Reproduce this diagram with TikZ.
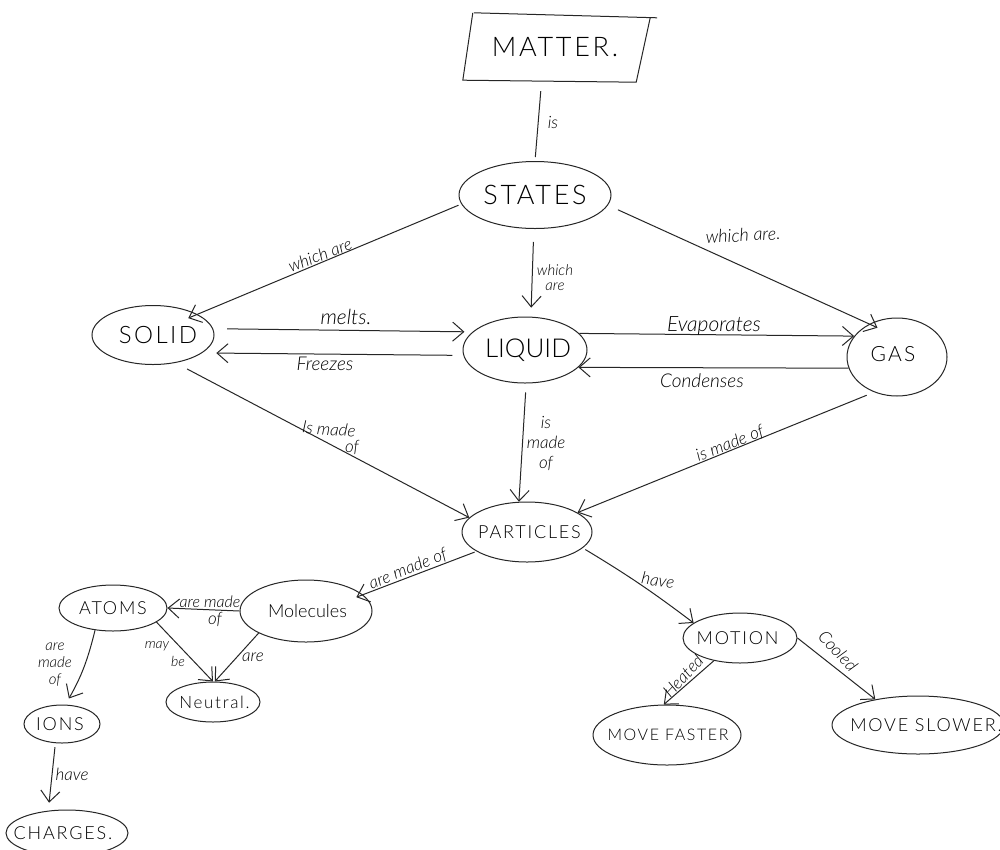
\documentclass[tikz,border=0pt]{standalone}
\usepackage{fontspec}
\setmainfont{Lato Light}[ItalicFont={Lato Light Italic}]
\usetikzlibrary{arrows.meta,shapes.geometric}
\newcommand{\spc}{\addfontfeature{LetterSpace=10}}
\newcommand{\tx}[1]{\makebox[0pt][c]{#1}}
\tikzset{
  x=1pt,y=-1pt,
  concept/.style={ellipse,draw=black!85,line width=1pt,inner sep=0pt,minimum width=#1,align=center},
  capsA/.style={font=\fontsize{27}{27}\selectfont\spc},
  capsB/.style={font=\fontsize{21}{21}\selectfont\spc},
  capsC/.style={font=\fontsize{18}{18}\selectfont\spc},
  lab/.style={font=\fontsize{17}{17}\selectfont\itshape,inner sep=0pt,align=center,text=black},
  link/.style={draw=black!85,line width=1pt},
  arr/.style={link,-{Straight Barb[length=11pt,width=19pt,line width=1pt]}},
}
\begin{document}
\begin{tikzpicture}
\useasboundingbox (0,0) rectangle (1000,849);
\fill[white] (0,0) rectangle (1000,849);
% nodes
\node[inner sep=0pt,minimum width=180pt,minimum height=66pt,capsA] (matter) at (555,48) {\tx{\raisebox{3pt}{MATTER.}}};
\draw[link] ([shift={(9,-2)}]matter.north west) -- ([shift={(12,3)}]matter.north east);
\draw[link] ([shift={(8,-2)}]matter.north west) -- ([shift={(-2,-1)}]matter.south west)
  -- ([shift={(-9,1)}]matter.south east) -- ([shift={(5,3)}]matter.north east);
\node[concept=152pt,minimum height=67pt,capsA] (states) at (535,195) {\tx{\raisebox{-2pt}{STATES}}};
\node[concept=122pt,minimum height=59pt,font=\fontsize{24}{24}\selectfont\spc] (solid) at (153,335) {\tx{\kern10ptSOLID}};
\node[concept=124pt,minimum height=66pt,font=\fontsize{26}{26}\selectfont] (liquid) at (525,350) {\tx{\kern6ptLIQUID}};
\node[concept=100pt,minimum height=78pt,capsB] (gas) at (897,357) {\tx{\raisebox{7pt}{GAS\kern8pt}}};
\node[concept=130pt,minimum height=60pt,capsC] (particles) at (527,532) {\tx{\kern5ptPARTICLES}};
\node[concept=132pt,minimum height=62pt,font=\fontsize{18}{18}\selectfont] (molecules) at (306,611) {\tx{\kern3ptMolecules}};
\node[concept=108pt,minimum height=46pt,capsC] (atoms) at (113,608) {\tx{ATOMS}};
\node[concept=94pt,minimum height=40pt,font=\fontsize{17}{17}\selectfont\spc] (neutral) at (213,702) {\tx{\kern3ptNeutral.}};
\node[concept=76pt,minimum height=38pt,capsC] (ions) at (62,724) {\tx{IONS\kern4pt}};
\node[concept=122pt,minimum height=46pt,capsC] (charges) at (67,833) {\tx{CHARGES.\kern8pt}};
\node[concept=114pt,minimum height=50pt,capsC] (motion) at (740,638) {\tx{MOTION\kern5pt}};
\node[concept=148pt,minimum height=60pt,font=\fontsize{16}{16}\selectfont\spc] (faster) at (667,735) {\tx{\kern2ptMOVE FASTER}};
\node[concept=172pt,minimum height=58pt,capsC] (slower) at (918,725) {\tx{\kern16ptMOVE SLOWER.}};
% connectors
\draw[link,shorten <=10pt,shorten >=4pt] (matter.248) -- (states.90);
\draw[arr,shorten <=3pt,shorten >=-10pt] (states.187) -- (solid.25);
\draw[arr,shorten <=13pt,shorten >=9pt] (states.268) -- (liquid.80);
\draw[arr,shorten <=11pt,shorten >=-9pt] (states.352) -- (gas.130);
\draw[arr,shorten <=14pt,shorten >=8pt] (solid.6) -- (liquid.161);
\draw[arr,shorten <=11pt,shorten >=14pt] (liquid.185) -- (solid.340);
\draw[arr] (liquid.17) -- (gas.154);
\draw[arr] (gas.193) -- (liquid.342);
\draw[arr,shorten <=13pt] (solid.309) -- (particles.166);
\draw[arr,shorten <=9pt] (liquid.272) -- (particles.105);
\draw[arr,shorten <=8pt] (gas.237) -- (particles.21);
\draw[arr,shorten <=2pt,shorten >=-7pt] (particles.201) -- (molecules.16);
\draw[arr,shorten <=3pt] (particles.344) to[bend left=3] (motion.162);
\draw[arr] (motion.221) -- (faster.96);
\draw[arr] (motion.0) -- (slower.149);
\draw[arr] (molecules.180) -- (atoms.0);
\draw[arr] (atoms.342) -- (neutral.90);
\draw[arr] (molecules.205) -- (neutral.85);
\draw[arr,shorten >=7pt] (atoms.231) to[bend left=8] (ions.80);
\draw[arr,shorten <=4pt,shorten >=8pt] (ions.251) -- (charges.130);
% labels
\node[lab] (l1) at (553,122) {is};
\node[lab,rotate=21] (l2) at (320,255) {which are};
\node[lab,font=\fontsize{15}{15}\selectfont\itshape] (l3) at (555,278) {which\\are};
\node[lab,rotate=3,font=\fontsize{18}{18}\selectfont\itshape] (l4) at (743,235) {which are.};
\node[lab,font=\fontsize{21}{21}\selectfont\itshape] (l5) at (346,317) {melts.};
\node[lab,font=\fontsize{19}{19}\selectfont\itshape] (l6) at (325,364) {Freezes};
\node[lab,font=\fontsize{21}{21}\selectfont\itshape] (l7) at (714,326) {Evaporates};
\node[lab,font=\fontsize{19}{19}\selectfont\itshape] (l8) at (702,381) {Condenses};
\node[lab,rotate=-5] (l9) at (329,429) {Is made};
\node[lab] (l10) at (352,447) {of};
\node[lab,font=\fontsize{17}{20}\selectfont\itshape] (l11) at (546,443) {is\\made\\of};
\node[lab,rotate=21] (l12) at (730,444) {is made of};
\node[lab,rotate=22] (l13) at (408,569) {are made of};
\node[lab,rotate=-8] (l14) at (658,580) {have};
\node[lab,rotate=47] (l15) at (683,676) {Heated};
\node[lab,rotate=-47] (l16) at (838,651) {Cooled};
\node[lab,font=\fontsize{16}{16}\selectfont\itshape] (l17) at (210,602) {are made};
\node[lab] (l18) at (215,619) {of};
\node[lab,font=\fontsize{14}{14}\selectfont\itshape] (l19) at (157,646) {may};
\node[lab,font=\fontsize{14}{14}\selectfont\itshape] (l20) at (178,661) {be};
\node[lab] (l21) at (253,657) {are};
\node[lab,font=\fontsize{15}{17}\selectfont\itshape] (l22) at (55,665) {are\\made\\of};
\node[lab] (l23) at (72,774) {have};
\end{tikzpicture}
\end{document}
